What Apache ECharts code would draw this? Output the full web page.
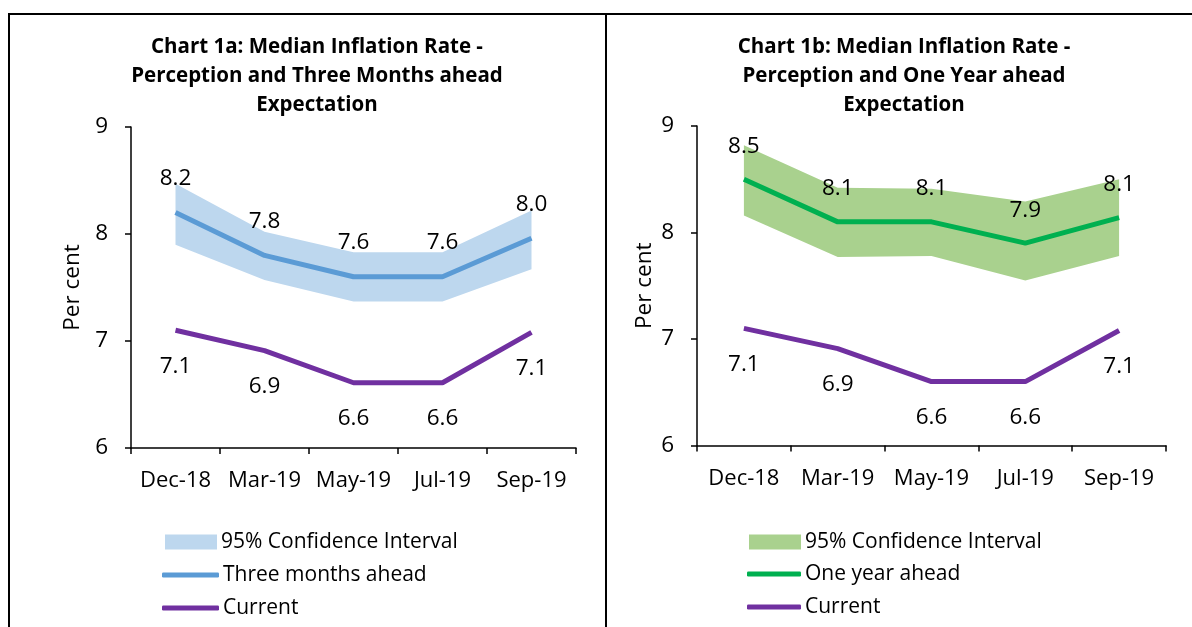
<!DOCTYPE html>
<html>
<head>
<meta charset="utf-8">
<script src="https://cdn.jsdelivr.net/npm/echarts@6/dist/echarts.min.js"></script>
<style>
html,body{margin:0;padding:0;background:#fff;}
#chart{width:1192px;height:627px;}
</style>
</head>
<body>
<div id="chart"></div>
<script>
// ---- Data ----
const categories = ['Dec-18', 'Mar-19', 'May-19', 'Jul-19', 'Sep-19'];
const yTicks = [6, 7, 8, 9];

// Chart 1a
const threeMonthsAhead = [8.20, 7.80, 7.60, 7.60, 7.96];
const ciUpper3m = [8.47, 8.02, 7.83, 7.83, 8.22];
const ciLower3m = [7.90, 7.57, 7.37, 7.37, 7.67];
const current1a = [7.10, 6.91, 6.61, 6.61, 7.08];

// Chart 1b
const oneYearAhead = [8.50, 8.10, 8.10, 7.90, 8.14];
const ciUpper1y = [8.82, 8.42, 8.41, 8.29, 8.50];
const ciLower1y = [8.16, 7.77, 7.78, 7.55, 7.78];
const current1b = [7.10, 6.91, 6.60, 6.60, 7.08];

const titles = [
  'Chart 1a: Median Inflation Rate -\nPerception and Three Months ahead\nExpectation',
  'Chart 1b: Median Inflation Rate -\nPerception and One Year ahead\nExpectation'
];

// ---- Styling ----
const FONT = 'Open Sans';
const FS_TICK = 22, FS_LBL = 22.5, FS_LEG = 21, FS_NAME = 22.5;
const C = {
  band1: '#BDD7EE', line1: '#5B9BD5',
  band2: '#A9D18E', line2: '#00B050',
  cur: '#7030A0'
};

const chart = echarts.init(document.getElementById('chart'), null, {renderer: 'canvas'});

const fmt = p => Number(p.value).toFixed(1);
const diff = (u, l) => u.map((v, i) => +(v - l[i]).toFixed(4));

function axes(gi, nameGap) {
  return {
    x: {
      type: 'category', gridIndex: gi, data: categories, boundaryGap: true,
      axisLine: {lineStyle: {color: '#000', width: 1.5}},
      axisTick: {show: true, length: 6, lineStyle: {color: '#000', width: 1.5}},
      axisLabel: {color: '#000', fontFamily: FONT, fontSize: FS_TICK, margin: 22, interval: 0}
    },
    y: {
      type: 'value', gridIndex: gi, min: yTicks[0], max: yTicks[yTicks.length - 1], interval: 1,
      name: 'Per cent', nameLocation: 'middle', nameGap,
      nameTextStyle: {color: '#000', fontFamily: FONT, fontSize: FS_NAME},
      splitLine: {show: false},
      axisLine: {show: true, lineStyle: {color: '#000', width: 1.5}},
      axisTick: {show: true, length: 6, lineStyle: {color: '#000', width: 1.5}},
      axisLabel: {color: '#000', fontFamily: FONT, fontSize: FS_LBL, margin: 23}
    }
  };
}
const a0 = axes(0, 47), a1 = axes(1, 41);

function lineSeries(name, data, color, idx, pos, dist) {
  return {
    name, type: 'line', xAxisIndex: idx, yAxisIndex: idx, data,
    color, symbol: 'circle', symbolSize: 0.1, showSymbol: true, showAllSymbol: true,
    itemStyle: {color}, smooth: false, z: 5,
    lineStyle: {color, width: 5},
    label: {show: true, position: pos, distance: dist, formatter: fmt,
            color: '#000', fontFamily: FONT, fontSize: FS_LBL, lineHeight: 26}
  };
}
function bandSeries(name, lower, upper, color, idx, stack) {
  return [
    {name: stack + '_base', type: 'line', xAxisIndex: idx, yAxisIndex: idx, stack,
     data: lower, symbol: 'none', lineStyle: {opacity: 0}, silent: true, z: 1},
    {name, type: 'line', xAxisIndex: idx, yAxisIndex: idx, stack,
     data: diff(upper, lower), symbol: 'none', color, itemStyle: {color},
     lineStyle: {opacity: 0}, areaStyle: {color, opacity: 1}, silent: true, z: 1}
  ];
}

function legendItem(name, left, top, w, h, icon) {
  return {
    data: [{name, icon}], left, top, orient: 'vertical', padding: 0,
    itemWidth: w, itemHeight: h, itemGap: 0, selectedMode: false,
    itemStyle: {borderWidth: 0},
    textStyle: {color: '#000', fontFamily: FONT, fontSize: FS_LEG, lineHeight: 24, padding: [0, 0, 0, -1]}
  };
}

const titleStyle = {fontFamily: FONT, fontWeight: 'bold', fontSize: 20.5, lineHeight: 29, color: '#000'};

const option = {
  animation: false,
  backgroundColor: '#fff',
  title: [
    {text: titles[0], left: 317, top: 33, textAlign: 'center', padding: 0, textStyle: titleStyle},
    {text: titles[1], left: 904, top: 33, textAlign: 'center', padding: 0, textStyle: titleStyle}
  ],
  grid: [
    {left: 131, top: 127, width: 445, height: 321},
    {left: 697, top: 126, width: 469, height: 319.5}
  ],
  xAxis: [a0.x, a1.x],
  yAxis: [a0.y, a1.y],
  legend: [
    legendItem('95% Confidence Interval', 165, 530, 52, 15, 'rect'),
    legendItem('Three months ahead', 162, 563, 57, 5, 'roundRect'),
    legendItem('Current', 162, 596, 57, 5, 'roundRect'),
    legendItem('95% Confidence Interval ', 749, 530, 52, 15, 'rect'),
    legendItem('One year ahead', 747, 562, 54, 5, 'roundRect'),
    legendItem('Current ', 747, 595, 54, 5, 'roundRect')
  ],
  graphic: [
    {type: 'line', shape: {x1: 8, y1: 14, x2: 1192, y2: 14}, style: {stroke: '#000', lineWidth: 2}},
    {type: 'line', shape: {x1: 9, y1: 13, x2: 9, y2: 627}, style: {stroke: '#000', lineWidth: 2}},
    {type: 'line', shape: {x1: 606, y1: 13, x2: 606, y2: 627}, style: {stroke: '#000', lineWidth: 2}}
  ],
  series: [
    ...bandSeries('95% Confidence Interval', ciLower3m, ciUpper3m, C.band1, 0, 'ci1'),
    lineSeries('Three months ahead', threeMonthsAhead, C.line1, 0, 'top', 21),
    lineSeries('Current', current1a, C.cur, 0, 'bottom', 23),
    ...bandSeries('95% Confidence Interval ', ciLower1y, ciUpper1y, C.band2, 1, 'ci2'),
    lineSeries('One year ahead', oneYearAhead, C.line2, 1, 'top', 20),
    lineSeries('Current ', current1b, C.cur, 1, 'bottom', 23)
  ]
};
chart.setOption(option);
</script>
</body>
</html>
